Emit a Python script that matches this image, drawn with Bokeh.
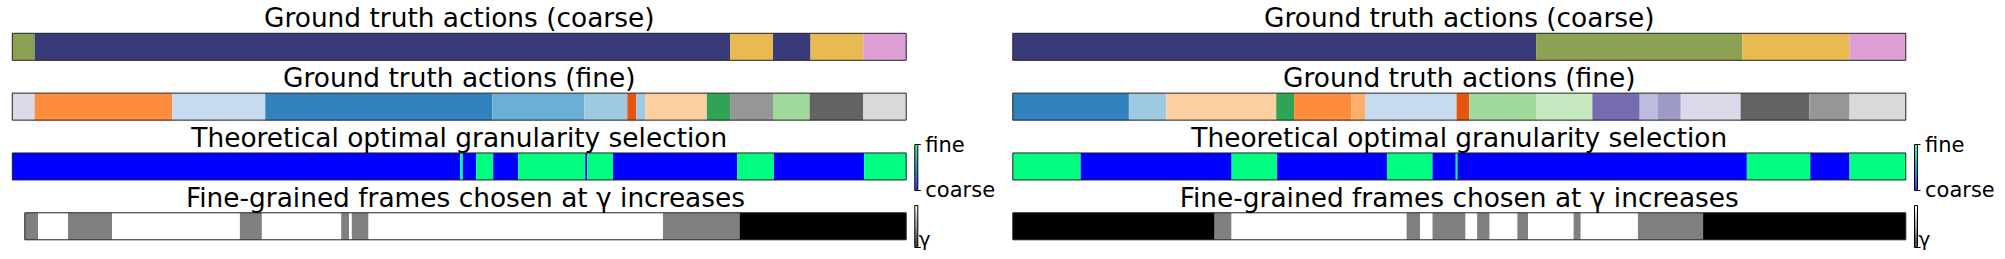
import numpy as np
from bokeh.plotting import figure
from bokeh.models import Range1d, ColumnDataSource
from bokeh.layouts import row
from bokeh.transform import linear_cmap
from bokeh.core.properties import value
from bokeh.embed import file_html
from bokeh.resources import INLINE

# ---------------- palettes ----------------
TAB20B = ['#393b79', '#5254a3', '#6b6ecf', '#9c9ede', '#637939', '#8ca252', '#b5cf6b', '#cedb9c',
          '#8c6d31', '#bd9e39', '#e7ba52', '#e7cb94', '#843c39', '#ad494a', '#d6616b', '#e7969c',
          '#7b4173', '#a55194', '#ce6dbd', '#de9ed6']
TAB20C = ['#3182bd', '#6baed6', '#9ecae1', '#c6dbef', '#e6550d', '#fd8d3c', '#fdae6b', '#fdd0a2',
          '#31a354', '#74c476', '#a1d99b', '#c7e9c0', '#756bb1', '#9e9ac8', '#bcbddc', '#dadaeb',
          '#636363', '#969696', '#bdbdbd', '#d9d9d9']
WINTER = ["#%02x%02x%02x" % (0, i, 255 - i // 2) for i in range(256)]
GRAY = ["#%02x%02x%02x" % (i, i, i) for i in range(256)]

ROW_TITLES = ["Ground truth actions (coarse)",
              "Ground truth actions (fine)",
              "Theoretical optimal granularity selection",
              "Fine-grained frames chosen at γ increases"]
GRAN_LABELS = ["coarse", "fine"]
GAMMA_LABEL = "γ"

# ---------------- data: video 1 (left) ----------------
V1_COARSE_BOUNDS = [0, 25, 803, 851, 893, 952, 1000]
V1_COARSE_IDS = [5, 0, 10, 0, 10, 19]
V1_FINE_BOUNDS = [0, 25, 179, 283, 537, 640, 688, 698, 708, 777, 803, 851, 892, 952, 1000]
V1_FINE_IDS = [15, 5, 3, 0, 1, 2, 4, 2, 7, 8, 17, 10, 16, 19]
V1_GRAN_BOUNDS = [0, 501, 504, 519, 538, 566, 641, 643, 672, 811, 852, 953, 1000]
V1_GRAN_VALUES = [0, 1, 0, 1, 0, 1, 0, 1, 0, 1, 0, 1]
V1_GAMMA_BOUNDS = [0, 15, 49, 99, 244, 269, 359, 368, 371, 390, 724, 811, 1000]
V1_GAMMA_VALUES = [0.5, 1, 0.5, 1, 0.5, 1, 0.5, 1, 0.5, 1, 0.5, 0]

# ---------------- data: video 2 (right) ----------------
V2_COARSE_BOUNDS = [0, 586, 817, 937, 1000]
V2_COARSE_IDS = [0, 5, 10, 19]
V2_FINE_BOUNDS = [0, 130, 172, 295, 315, 379, 395, 497, 511, 586, 649, 702, 722, 748, 815, 892, 937, 1000]
V2_FINE_IDS = [0, 2, 7, 8, 5, 6, 3, 4, 10, 11, 12, 14, 13, 15, 16, 17, 19]
V2_GRAN_BOUNDS = [0, 76, 245, 296, 419, 470, 496, 498, 822, 893, 937, 1000]
V2_GRAN_VALUES = [1, 0, 1, 0, 1, 0, 1, 0, 1, 0, 1]
V2_GAMMA_BOUNDS = [0, 226, 245, 441, 456, 470, 507, 520, 534, 565, 577, 628, 636, 700, 773, 1000]
V2_GAMMA_VALUES = [0, 0.5, 1, 0.5, 1, 0.5, 1, 0.5, 1, 0.5, 1, 0.5, 1, 0.5, 0]

N_FRAMES = 1000

# ---------------- layout (page pixels) ----------------
FIG_H = 259
Y_TOP_PAGE = 0
ROW0_Y = 46.3
ROW_DY = 59.83
BAR_H_PX = 27
TITLE_OFF_PX = 29.0
TITLE_SIZE = "26.4px"
LABEL_SIZE = "21px"
GAMMA_SIZE = "20px"
TEXT_SHIFT = 8.5


def uy(py):
    return (py - ROW0_Y) / ROW_DY


def seg_source(bounds, rowk, hh, **extra):
    l, r = bounds[:-1], bounds[1:]
    d = dict(left=l, right=r, top=[rowk - hh] * len(l), bottom=[rowk + hh] * len(l))
    d.update(extra)
    return ColumnDataSource(d)


def make_panel(fx0, fw, bar_l, bar_r, gam_l, cbx, coarse, fine, gran, gamma):
    sc = (bar_r - bar_l) / N_FRAMES
    gsc = (bar_r - gam_l) / N_FRAMES
    xr = Range1d((fx0 - bar_l) / sc, (fx0 + fw - bar_l) / sc)
    yr = Range1d(uy(Y_TOP_PAGE + FIG_H), uy(Y_TOP_PAGE))
    p = figure(width=fw, height=FIG_H, x_range=xr, y_range=yr, output_backend="svg",
               toolbar_location=None, min_border=0, x_axis_location=None, y_axis_location=None,
               outline_line_color=None, background_fill_color="white", border_fill_color="white")
    p.extra_x_ranges = {"gamma": Range1d((fx0 - gam_l) / gsc, (fx0 + fw - gam_l) / gsc)}
    p.xgrid.visible = False
    p.ygrid.visible = False

    def ux(px):
        return (px - bar_l) / sc

    hh = BAR_H_PX / ROW_DY / 2
    q = dict(left="left", right="right", top="top", bottom="bottom")

    p.quad(**q, source=seg_source(coarse[0], 0, hh, c=[TAB20B[i] for i in coarse[1]]),
           fill_color="c", line_color=None)
    p.quad(**q, source=seg_source(fine[0], 1, hh, c=[TAB20C[i] for i in fine[1]]),
           fill_color="c", line_color=None)
    p.quad(**q, source=seg_source(gran[0], 2, hh, v=gran[1]),
           fill_color=linear_cmap("v", WINTER, 0, 1), line_color=None)
    p.quad(**q, source=seg_source(gamma[0], 3, hh, v=gamma[1]),
           fill_color=linear_cmap("v", GRAY, 0, 1), line_color=None, x_range_name="gamma")

    # outlines
    p.quad(left=[0, 0, 0], right=[N_FRAMES] * 3, top=[k - hh for k in range(3)],
           bottom=[k + hh for k in range(3)], fill_color=None, line_color="#222222", line_width=1)
    p.quad(left=[0], right=[N_FRAMES], top=[3 - hh], bottom=[3 + hh], fill_color=None,
           line_color="#222222", line_width=1, x_range_name="gamma")

    # titles
    for k in range(4):
        kw = dict(x_range_name="gamma") if k == 3 else {}
        p.text(x=[N_FRAMES / 2], y=[k - TITLE_OFF_PX / ROW_DY], text=[ROW_TITLES[k]],
               text_align="center", text_baseline="alphabetic", text_font=value("DejaVu Sans"),
               text_font_size=value(TITLE_SIZE), text_color="black", **kw)

    # colour bars
    nst = 64
    cb_w = 3
    for (top_py, bot_py, pal) in [(144, 190, WINTER), (205, 247, GRAY)]:
        edges = np.linspace(uy(bot_py), uy(top_py), nst + 1)
        vals = np.linspace(0, 1, nst)
        src = ColumnDataSource(dict(left=[ux(cbx)] * nst, right=[ux(cbx + cb_w)] * nst,
                                    bottom=edges[:-1], top=edges[1:], v=vals))
        p.quad(**q, source=src, fill_color=linear_cmap("v", pal, 0, 1), line_color=None)
        p.quad(left=[ux(cbx)], right=[ux(cbx + cb_w)], top=[uy(top_py)], bottom=[uy(bot_py)],
               fill_color=None, line_color="black", line_width=1)
    # ticks
    p.segment(x0=[ux(cbx + cb_w)] * 3, x1=[ux(cbx + cb_w + 3)] * 3,
              y0=[uy(144), uy(190), uy(247)], y1=[uy(144), uy(190), uy(247)],
              line_color="black", line_width=1)
    # labels
    p.text(x=[ux(cbx + 10.5)] * 2, y=[uy(152.5 - TEXT_SHIFT), uy(197.5 - TEXT_SHIFT)],
           text=[GRAN_LABELS[1], GRAN_LABELS[0]],
           text_align="left", text_baseline="alphabetic", text_font=value("DejaVu Sans"),
           text_font_size=value(LABEL_SIZE), text_color="black")
    p.text(x=[ux(cbx + 4.0)], y=[uy(238)], text=[GAMMA_LABEL],
           text_align="left", text_baseline="alphabetic", text_font=value("DejaVu Sans"),
           text_font_size=value(GAMMA_SIZE), text_color="black")
    return p


p1 = make_panel(0, 1000, 11.8, 905.7, 24.3, 914.3,
                (V1_COARSE_BOUNDS, V1_COARSE_IDS), (V1_FINE_BOUNDS, V1_FINE_IDS),
                (V1_GRAN_BOUNDS, V1_GRAN_VALUES), (V1_GAMMA_BOUNDS, V1_GAMMA_VALUES))
p2 = make_panel(1000, 1005, 1012.3, 1905.3, 1012.3, 1914.0,
                (V2_COARSE_BOUNDS, V2_COARSE_IDS), (V2_FINE_BOUNDS, V2_FINE_IDS),
                (V2_GRAN_BOUNDS, V2_GRAN_VALUES), (V2_GAMMA_BOUNDS, V2_GAMMA_VALUES))

layout = row(p1, p2, spacing=0)
open("out.html", "w").write(file_html(layout, INLINE))
